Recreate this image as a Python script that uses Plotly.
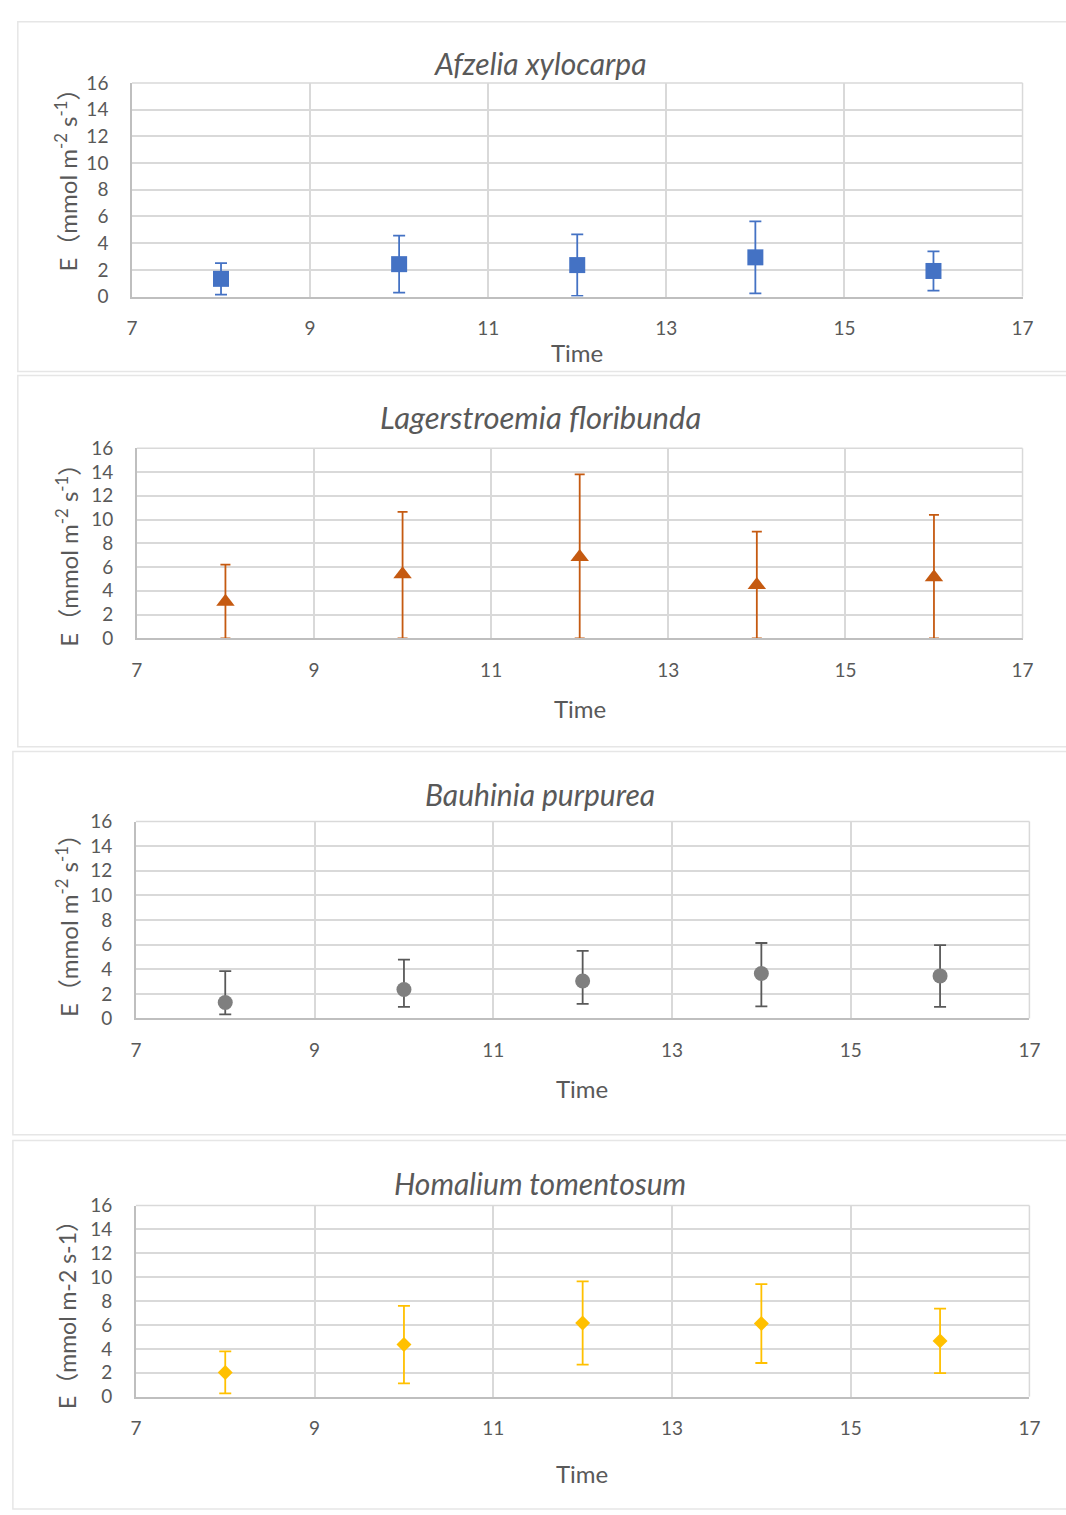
import plotly.graph_objects as go

W, H = 1066, 1515

time = [8, 10, 12, 14, 16]

# Afzelia xylocarpa
afz_mean = [1.33, 2.43, 2.36, 2.94, 1.92]
afz_err = [1.18, 2.13, 2.3, 2.7, 1.47]

# Lagerstroemia floribunda
lag_mean = [3.07, 5.4, 6.85, 4.48, 5.15]
lag_err_plus = [3.13, 5.25, 6.95, 4.5, 5.25]
lag_err_minus = [3.07, 5.4, 6.85, 4.48, 5.15]

# Bauhinia purpurea
bau_mean = [1.3, 2.35, 3.04, 3.65, 3.46]
bau_err_plus = [2.55, 2.43, 2.46, 2.48, 2.5]
bau_err_minus = [0.96, 1.4, 1.85, 2.67, 2.51]

# Homalium tomentosum
hom_mean = [2.03, 4.36, 6.17, 6.12, 4.67]
hom_err = [1.76, 3.25, 3.48, 3.3, 2.7]

titles = ["Afzelia xylocarpa", "Lagerstroemia floribunda", "Bauhinia purpurea", "Homalium tomentosum"]
ytitles = ["E（mmol m<sup>-2</sup> s<sup>-1</sup>）", "E（mmol m<sup>-2</sup> s<sup>-1</sup>）",
           "E（mmol m<sup>-2</sup> s<sup>-1</sup>）", "E（mmol m-2 s-1）"]
x_ticks = [7, 9, 11, 13, 15, 17]
y_ticks = [0, 2, 4, 6, 8, 10, 12, 14, 16]

FONT = "Lato, 'Noto Sans CJK SC', sans-serif"
TXT = "#595959"

# layout geometry (pixels)
plots = [  # x0, x1, ytop, ybottom
    (128, 1033, 72, 289),
    (133, 1033, 443, 636),
    (132, 1040, 822, 1022),
    (132, 1040, 1212, 1406),
]
panels = [  # x0, y0, y1
    (12, 10, 365),
    (12, 369, 746),
    (7, 751, 1140),
    (7, 1146, 1520),
]
title_y = [52, 411, 794, 1189]
title_size = [30, 31, 30, 30]
time_pos = [(580, 346), (583, 707), (585, 1093), (585, 1484)]
ytitle_pos = [(61, 165), (62, 546), (62, 922), (62, 1317)]
ytitle_size = [24, 24, 24, 23]

def px(x):
    return x / W

def py(y):
    return 1 - y / H

series = [
    dict(mean=afz_mean, plus=afz_err, minus=afz_err, color="#4472C4", ecolor="#4472C4",
         symbol="square", size=16, cap=6),
    dict(mean=lag_mean, plus=lag_err_plus, minus=lag_err_minus, color="#C55A11", ecolor="#C55A11",
         symbol="triangle-up", size=16, cap=5),
    dict(mean=bau_mean, plus=bau_err_plus, minus=bau_err_minus, color="#7F7F7F", ecolor="#595959",
         symbol="circle", size=15, cap=6),
    dict(mean=hom_mean, plus=hom_err, minus=hom_err, color="#FFC000", ecolor="#FFC000",
         symbol="diamond", size=11.5, cap=6),
]

fig = go.Figure()
layout = {}
annotations = []
shapes = []

for i, s in enumerate(series):
    n = "" if i == 0 else str(i + 1)
    fig.add_trace(go.Scatter(
        x=time, y=s["mean"], mode="markers",
        marker=dict(symbol=s["symbol"], size=s["size"], color=s["color"], line=dict(width=0)),
        error_y=dict(type="data", symmetric=False, array=s["plus"], arrayminus=s["minus"],
                     color=s["ecolor"], thickness=1.8, width=s["cap"]),
        xaxis="x" + n, yaxis="y" + n, showlegend=False, cliponaxis=False,
    ))
    x0, x1, yt, yb = plots[i]
    layout["xaxis" + n] = dict(
        domain=[px(x0), px(x1)], range=[7, 17], tickvals=x_ticks, anchor="y" + n,
        showgrid=True, gridcolor="#D9D9D9", gridwidth=1.5,
        showline=True, linecolor="#BFBFBF", linewidth=1.5, mirror=False,
        zeroline=False, ticks="", ticklabelstandoff=14,
        tickfont=dict(family=FONT, size=19, color=TXT), fixedrange=True,
    )
    layout["yaxis" + n] = dict(
        domain=[py(yb), py(yt)], range=[0, 16], tickvals=y_ticks, anchor="x" + n,
        showgrid=True, gridcolor="#D9D9D9", gridwidth=1.5,
        showline=True, linecolor="#BFBFBF", linewidth=1.5,
        zeroline=False, ticks="", ticklabelstandoff=18,
        tickfont=dict(family=FONT, size=19, color=TXT), fixedrange=True,
    )
    # right border of plot area
    shapes.append(dict(type="line", xref="paper", yref="paper",
                       x0=px(x1), x1=px(x1), y0=py(yb), y1=py(yt),
                       line=dict(color="#D9D9D9", width=1.5)))
    # top border
    shapes.append(dict(type="line", xref="paper", yref="paper",
                       x0=px(x0), x1=px(x1), y0=py(yt), y1=py(yt),
                       line=dict(color="#D9D9D9", width=1.5)))
    # panel border
    bx, by0, by1 = panels[i]
    shapes.append(dict(type="rect", xref="paper", yref="paper",
                       x0=px(bx), x1=px(1080), y0=py(by1), y1=py(by0),
                       line=dict(color="#E6E6E6", width=1.5), fillcolor="rgba(0,0,0,0)", layer="below"))
    annotations.append(dict(text="<i>" + titles[i] + "</i>", xref="paper", yref="paper",
                            x=px(543), y=py(title_y[i]), showarrow=False,
                            font=dict(family=FONT, size=title_size[i], color=TXT),
                            xanchor="center", yanchor="middle"))
    tx, ty = time_pos[i]
    annotations.append(dict(text="Time", xref="paper", yref="paper",
                            x=px(tx), y=py(ty), showarrow=False,
                            font=dict(family=FONT, size=24, color=TXT),
                            xanchor="center", yanchor="middle"))
    ax, ay = ytitle_pos[i]
    annotations.append(dict(text=ytitles[i], xref="paper", yref="paper",
                            x=px(ax), y=py(ay), showarrow=False, textangle=-90,
                            font=dict(family=FONT, size=ytitle_size[i], color=TXT),
                            xanchor="center", yanchor="middle"))

fig.update_layout(
    width=W, height=H, margin=dict(l=0, r=0, t=0, b=0),
    paper_bgcolor="white", plot_bgcolor="white",
    annotations=annotations, shapes=shapes, **layout,
)

fig.write_html("out.html")
